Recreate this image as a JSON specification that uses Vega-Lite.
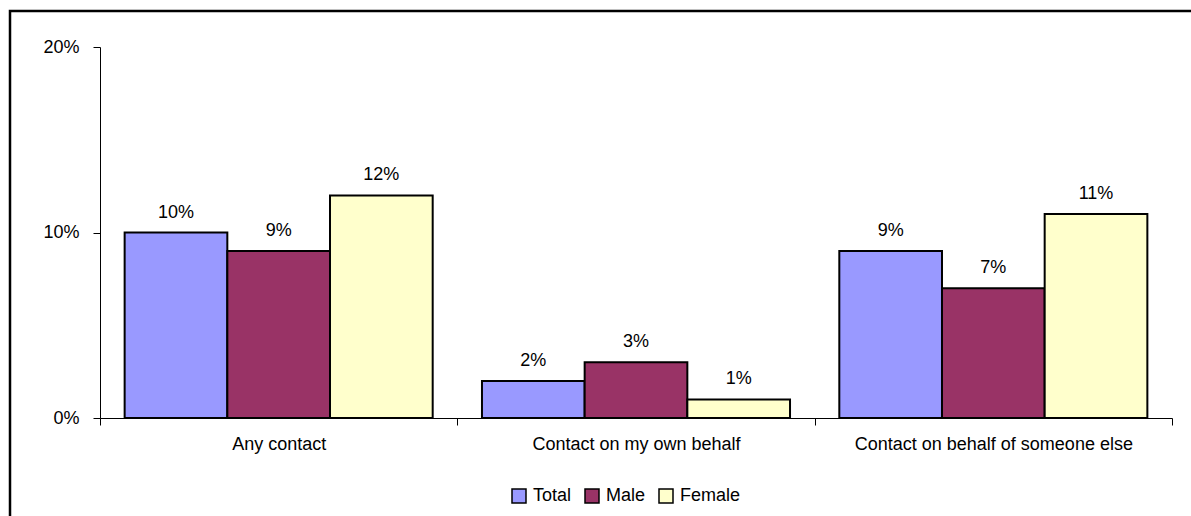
{
  "$schema": "https://vega.github.io/schema/vega-lite/v6.json",
  "autosize": {"type": "none"},
  "padding": {"left": 10, "top": 11, "right": 0, "bottom": 0},
  "width": 1186,
  "height": 510,
  "background": "white",
  "config": {
    "view": {"stroke": "black", "strokeWidth": 2.5},
    "font": "Liberation Sans"
  },
  "data": {
    "values": [
      {"category": "Any contact", "series": "Total", "value": 0.10},
      {"category": "Any contact", "series": "Male", "value": 0.09},
      {"category": "Any contact", "series": "Female", "value": 0.12},
      {"category": "Contact on my own behalf", "series": "Total", "value": 0.02},
      {"category": "Contact on my own behalf", "series": "Male", "value": 0.03},
      {"category": "Contact on my own behalf", "series": "Female", "value": 0.01},
      {"category": "Contact on behalf of someone else", "series": "Total", "value": 0.09},
      {"category": "Contact on behalf of someone else", "series": "Male", "value": 0.07},
      {"category": "Contact on behalf of someone else", "series": "Female", "value": 0.11}
    ]
  },
  "encoding": {
    "x": {
      "field": "category",
      "type": "nominal",
      "sort": null,
      "scale": {"range": [90, 1162], "paddingInner": 0, "paddingOuter": 0},
      "axis": {
        "title": null,
        "orient": "bottom",
        "offset": -103,
        "labelAngle": 0,
        "labelFontSize": 18,
        "labelLimit": 0,
        "labelColor": "black",
        "labelPadding": 10,
        "tickBand": "extent",
        "tickSize": 7,
        "tickColor": "black",
        "domainColor": "black",
        "grid": false
      }
    },
    "xOffset": {
      "field": "series",
      "type": "nominal",
      "sort": ["Total", "Male", "Female"],
      "scale": {"paddingInner": 0, "paddingOuter": 0.24}
    },
    "y": {
      "field": "value",
      "type": "quantitative",
      "scale": {"domain": [0, 0.2], "range": [407, 36], "nice": false},
      "axis": {
        "title": null,
        "orient": "left",
        "offset": -90,
        "values": [0, 0.1, 0.2],
        "format": ".0%",
        "labelFontSize": 18,
        "labelColor": "black",
        "labelPadding": 14,
        "tickSize": 7,
        "tickColor": "black",
        "domainColor": "black",
        "grid": false
      }
    }
  },
  "layer": [
    {
      "mark": {"type": "bar", "stroke": "black", "strokeWidth": 2},
      "encoding": {
        "color": {
          "field": "series",
          "type": "nominal",
          "scale": {"domain": ["Total", "Male", "Female"], "range": ["#9999FF", "#993366", "#FFFFCC"]},
          "legend": {
            "title": null,
            "orient": "none",
            "direction": "horizontal",
            "legendX": 500,
            "legendY": 476,
            "symbolType": "square",
            "symbolSize": 196,
            "symbolStrokeColor": "black",
            "symbolStrokeWidth": 1.5,
            "symbolOpacity": 1,
            "labelFontSize": 18,
            "labelColor": "black",
            "labelOffset": 5,
            "columnPadding": 10
          }
        }
      }
    },
    {
      "mark": {"type": "text", "baseline": "alphabetic", "dy": -15, "fontSize": 18, "color": "black"},
      "encoding": {
        "text": {"field": "value", "type": "quantitative", "format": ".0%"},
        "detail": {"field": "series"}
      }
    }
  ]
}
